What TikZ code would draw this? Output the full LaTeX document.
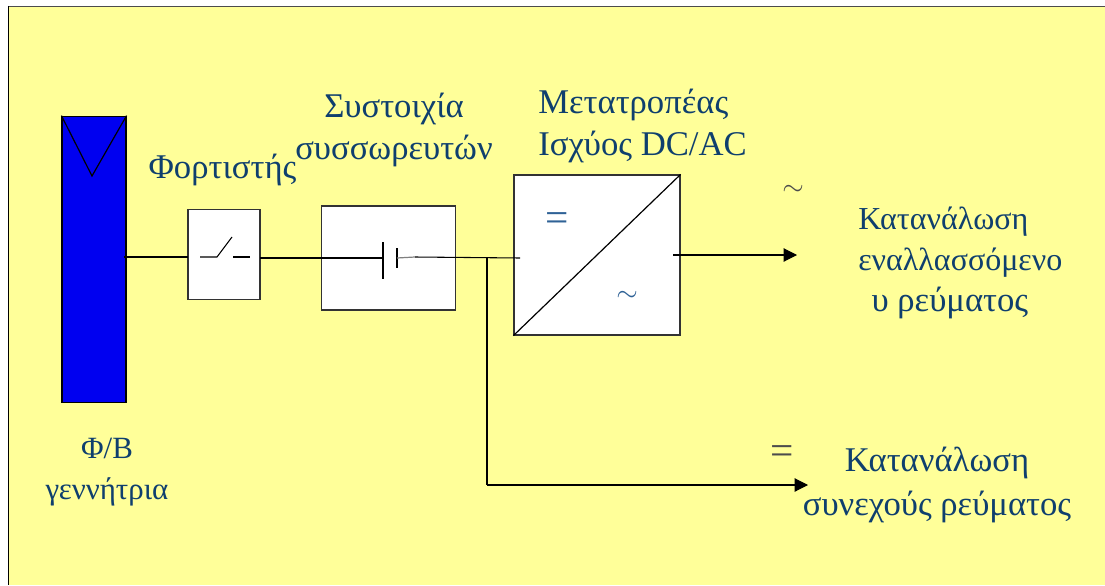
\documentclass[tikz,border=0pt]{standalone}
\usepackage{fontspec}
\setmainfont{Liberation Serif}
\definecolor{bgyellow}{HTML}{FFFF99}
\definecolor{labelblue}{HTML}{0F3F6E}
\definecolor{signblue}{HTML}{2F6296}
\definecolor{panelblue}{HTML}{0000F0}
\tikzset{
    block/.style={draw=black!80, fill=white, line width=0.9pt, inner sep=0pt},
    wire/.style={line width=0.8pt, black},
    label/.style={text=labelblue, font=\fontsize{26}{31}\selectfont, align=center, inner sep=0pt},
    smalllabel/.style={label, font=\fontsize{24}{31}\selectfont},
    sign/.style={text=signblue, font=\fontsize{20}{22}\selectfont, inner sep=0pt},
    eqsign/.style={sign, font=\fontsize{31}{31}\selectfont},
    feed/.style={wire, -{Triangle[length=10pt,width=10pt]}}
}
\usetikzlibrary{arrows.meta}
\begin{document}
\begin{tikzpicture}[x=0.75pt, y=-0.75pt]
\useasboundingbox (0,0) rectangle (1105,585);
\fill[white] (0,0) rectangle (1105,585);
\fill[bgyellow] (8,6) rectangle (1105,585);
\draw[line width=0.9pt, black!70] (8,6.5) -- (1105,6.5);
\draw[line width=1pt, black] (8.5,6) -- (8.5,585);

% blocks
\node (panel) at (94,259.5) [block, fill=panelblue, draw=black, minimum width=48pt, minimum height=215pt] {};
\node (charger) at (224,254.5) [block, minimum width=54pt, minimum height=68pt] {};
\node (bank) at (388.5,258) [block, minimum width=101pt, minimum height=78pt] {};
\node (inverter) at (597,255) [block, minimum width=124.5pt, minimum height=120pt] {};

\draw[line width=0.9pt] (panel.north west) -- (92,176) -- (panel.north east);
\draw[line width=0.9pt] (inverter.south west) -- (inverter.north east);

% switch and cell symbols
\coordinate (swa) at (200,257);
\coordinate (swb) at (217,257);
\coordinate (swc) at (232,237);
\coordinate (swd) at (233,257);
\coordinate (swe) at (250,257);
\draw[wire] (swa) -- (swb) -- (swc);
\draw[wire] (swd) -- (swe);
\coordinate (plateA) at (383,258);
\coordinate (plateB) at (397,258);
\coordinate (cellend) at (415,257);
\draw[line width=1.2pt] (383,242) -- (383,279);
\draw[line width=1.2pt] (397,248) -- (397,268);
\draw[line width=0.9pt, black!50] (plateB) -- (cellend);

% connectors
\coordinate (pvout) at (124,257);
\coordinate (chargerin) at (188,257);
\coordinate (chargerout) at (260,258);
\coordinate (invin) at (520,258);
\coordinate (tee) at (487,258);
\coordinate (teedown) at (487,485);
\coordinate (dcload) at (808,485);
\coordinate (invout) at (673,255);
\coordinate (acload) at (797,255);
\draw[wire] (pvout) -- (chargerin);
\draw[wire] (chargerout) -- (plateA);
\draw[wire] (cellend) -- (invin);
\draw[wire] (tee) -- (teedown);
\draw[feed] (teedown) -- (dcload);
\draw[feed] (invout) -- (acload);

% labels
\node (pvlabel) at (107,472) [label, font=\fontsize{23.2}{31}\selectfont] {Φ/Β\\γεννήτρια};
\node (chargerlabel) at (222.5,170) [label] {Φορτιστής};
\node (banklabel) at (394,130) [label] {Συστοιχία\\συσσωρευτών};
\node (invlabel) at (538,126) [label, anchor=west, align=left] {Μετατροπέας\\Ισχύος DC/AC};
\node (aclabel) at (858,263) [smalllabel, anchor=west, align=left] {Κατανάλωση\\εναλλασσόμενο\\\hspace*{10pt}{\fontsize{26}{31}\selectfont υ ρεύματος}};
\node (dclabel) at (937,485) [label, font=\fontsize{26}{33}\selectfont] {Κατανάλωση\\συνεχούς ρεύματος};

\node (eqin) at (557,222) [eqsign] {=};
\node (acin) at (627,296) [sign] {$\sim$};
\node (acout) at (793,190) [sign, text=black!70] {$\sim$};
\node (dcout) at (782,455) [eqsign, text=black!70] {=};
\end{tikzpicture}
\end{document}
